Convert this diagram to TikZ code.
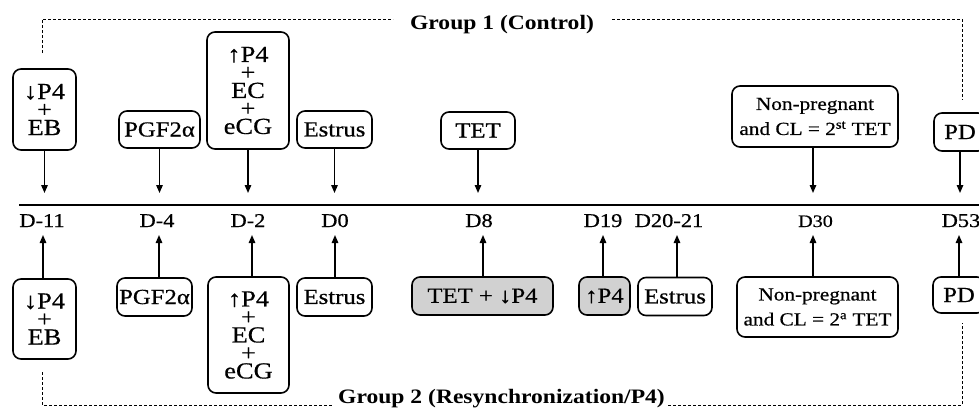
\documentclass[tikz,border=0pt]{standalone}
\usepackage{fontspec}
\setmainfont{Liberation Serif}[FakeStretch=1.15, UprightFeatures={FakeBold=0.6}]
\usetikzlibrary{arrows.meta}
\begin{document}
\begin{tikzpicture}[x=1pt,y=-1pt,
  box/.style={draw, rounded corners=8pt, line width=1.6pt, inner sep=0pt, align=center,
              font=\fontsize{21.5}{21.5}\selectfont},
  gbox/.style={box, fill=black!18},
  stackbox/.style={box, font=\fontsize{23}{18}\selectfont},
  npbox/.style={box, font=\fontsize{18.5}{25}\selectfont},
  arr/.style={-{Triangle[length=8pt,width=6.5pt]}, line width=1.4pt},
  dlab/.style={anchor=base, inner sep=0pt, font=\fontsize{19.5}{20}\selectfont},
  grpline/.style={line width=1pt, dash pattern=on 3pt off 2pt},
  ttl/.style={anchor=base, inner sep=0pt, font=\fontsize{20.5}{22}\selectfont\bfseries},
  mainline/.style={line width=2pt}]
\useasboundingbox (0,0) rectangle (979,410);
\clip (0,0) rectangle (979,410);

% titles
\node[ttl] (t1) at (502,29) {Group 1 (Control)};
\node[ttl] (t2) at (501.5,403) {Group 2 (Resynchronization/P4)};

% group lines
\coordinate (g1s) at (42,53);
\coordinate (g1l) at (393,19);
\coordinate (g1r) at (612,19);
\coordinate (g1e) at (962,100);
\draw[grpline] (g1s) |- (g1l);
\draw[grpline] (g1r) -| (g1e);
\coordinate (g2s) at (42,372);
\coordinate (g2l) at (332,405);
\coordinate (g2r) at (668,405);
\coordinate (g2e) at (962,323);
\draw[grpline] (g2s) |- (g2l);
\draw[grpline] (g2r) -| (g2e);

% time line
\coordinate (L0) at (19,205);
\coordinate (L1) at (985,205);
\draw[mainline] (L0) -- (L1);

% top boxes
\node[stackbox, minimum width=63pt, minimum height=81pt] (a1) at (44.5,109.5) {↓P4\\+\\EB};
\node[box, minimum width=81pt, minimum height=37pt] (a2) at (159.5,129.5) {PGF2α};
\node[stackbox, minimum width=82pt, minimum height=117pt] (a3) at (248,90.5) {↑P4\\+\\EC\\+\\eCG};
\node[box, minimum width=75pt, minimum height=37pt] (a4) at (334.5,129.5) {Estrus};
\node[box, minimum width=74pt, minimum height=37pt] (a5) at (478,130.5) {TET};
\node[npbox, minimum width=166pt, minimum height=61pt] (a6) at (815,116.5) {Non-pregnant\\and CL = 2\textsuperscript{st} TET};
\node[box, minimum width=52pt, minimum height=38pt] (a7) at (960,132) {PD};

\coordinate (ta1) at (44.5,193);
\coordinate (ta2) at (159.5,193);
\coordinate (ta3) at (248,193);
\coordinate (ta4) at (334.5,193);
\coordinate (ta5) at (478,193);
\coordinate (ta6) at (813,193);
\coordinate (ta7) at (960,193);
\draw[arr] (a1) -- (ta1);
\draw[arr] (a2) -- (ta2);
\draw[arr] (a3) -- (ta3);
\draw[arr] (a4) -- (ta4);
\draw[arr] (a5) -- (ta5);
\draw[arr] (a6.south -| ta6) -- (ta6);
\draw[arr] (a7) -- (ta7);

% day labels
\node[dlab] (d1) at (42,227) {D-11};
\node[dlab] (d2) at (157,227) {D-4};
\node[dlab] (d3) at (248,227) {D-2};
\node[dlab] (d4) at (335,227) {D0};
\node[dlab] (d5) at (479,227) {D8};
\node[dlab] (d6) at (603,227) {D19};
\node[dlab] (d7) at (669,227) {D20-21};
\node[dlab, font=\fontsize{17.5}{18}\selectfont] (d8) at (815.5,227) {D30};
\node[dlab] (d9) at (961,227) {D53};

% bottom boxes
\node[stackbox, minimum width=63pt, minimum height=80pt] (b1) at (44.5,319) {↓P4\\+\\EB};
\node[box, minimum width=75pt, minimum height=38pt] (b2) at (154.5,297) {PGF2α};
\node[stackbox, minimum width=81pt, minimum height=116pt] (b3) at (248.5,335) {↑P4\\+\\EC\\+\\eCG};
\node[box, minimum width=75pt, minimum height=38pt] (b4) at (334.5,297) {Estrus};
\node[gbox, minimum width=141pt, minimum height=38pt] (b5) at (482.5,296) {TET + ↓P4};
\node[gbox, minimum width=51pt, minimum height=38pt] (b6) at (604.5,296) {↑P4};
\node[box, minimum width=74pt, minimum height=38pt] (b7) at (675,296.5) {Estrus};
\node[npbox, minimum width=161pt, minimum height=60pt] (b8) at (817.5,307) {Non-pregnant\\and CL = 2\textsuperscript{a} TET};
\node[box, minimum width=52pt, minimum height=36pt] (b9) at (959,295) {PD};

\coordinate (ub1) at (43,235);
\coordinate (ub2) at (159,235);
\coordinate (ub3) at (252,235);
\coordinate (ub4) at (335,235);
\coordinate (ub5) at (483,235);
\coordinate (ub6) at (603,235);
\coordinate (ub7) at (677,235);
\coordinate (ub8) at (813,235);
\coordinate (ub9) at (959,235);
\draw[arr] (b1.north -| ub1) -- (ub1);
\draw[arr] (b2.north -| ub2) -- (ub2);
\draw[arr] (b3.north -| ub3) -- (ub3);
\draw[arr] (b4.north -| ub4) -- (ub4);
\draw[arr] (b5.north -| ub5) -- (ub5);
\draw[arr] (b6.north -| ub6) -- (ub6);
\draw[arr] (b7.north -| ub7) -- (ub7);
\draw[arr] (b8.north -| ub8) -- (ub8);
\draw[arr] (b9.north -| ub9) -- (ub9);
\end{tikzpicture}
\end{document}
